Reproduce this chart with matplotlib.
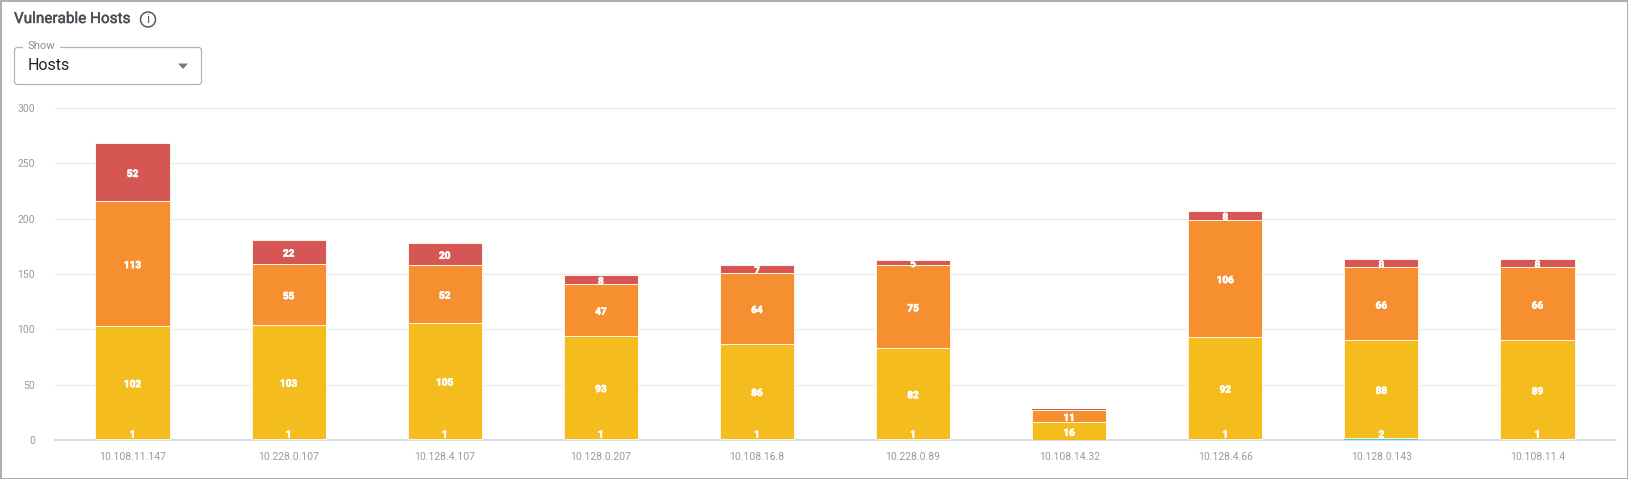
import matplotlib
matplotlib.use("Agg")
import matplotlib.pyplot as plt
import matplotlib.patheffects as pe
from matplotlib.patches import FancyBboxPatch, Rectangle, Circle, Polygon

hosts = ["10.108.11.147", "10.228.0.107", "10.128.4.107", "10.128.0.207", "10.108.16.8",
         "10.228.0.89", "10.108.14.32", "10.128.4.66", "10.128.0.143", "10.108.11.4"]
info = [1, 1, 1, 1, 1, 1, 0, 1, 2, 1]
low = [102, 103, 105, 93, 86, 82, 16, 92, 88, 89]
medium = [113, 55, 52, 47, 64, 75, 11, 106, 66, 66]
high = [52, 22, 20, 8, 7, 5, 1, 8, 8, 8]
yticks = [0, 50, 100, 150, 200, 250, 300]
series = [(info, "#4fcfc0"), (low, "#f4bc1c"), (medium, "#f68f2f"), (high, "#d55653")]

W, H = 1628, 479
plt.rcParams['font.family'] = ['Roboto', 'DejaVu Sans']
fig = plt.figure(figsize=(W / 100, H / 100), dpi=100)
bg = fig.add_axes([0, 0, 1, 1])
bg.set_xlim(0, W); bg.set_ylim(H, 0); bg.axis("off")
bg.add_patch(Rectangle((0.5, 0.5), W - 1, H - 1, fc="white", ec="#a0a0a0", lw=1.2))
bg.text(14, 19, "Vulnerable Hosts", fontsize=11, color="#484c55", va="center", ha="left",
        path_effects=[pe.withStroke(linewidth=0.3, foreground="#484c55")])
bg.add_patch(Circle((148, 19.5), 7.5, fc="none", ec="#555a62", lw=1.1))
bg.text(148, 19.8, "i", fontsize=9, color="#555a62", va="center", ha="center")
bg.add_patch(FancyBboxPatch((14.5, 47.5), 187, 37, boxstyle="round,pad=0,rounding_size=3",
                            fc="white", ec="#b5b5b5", lw=0.9))
bg.add_patch(Rectangle((23, 43), 37, 8, fc="white", ec="none", zorder=3))
bg.text(27.5, 46, "Show", fontsize=8, color="#8f8f8f", va="center", ha="left", zorder=4)
bg.text(27.5, 65, "Hosts", fontsize=11.5, color="#1d2433", va="center", ha="left")
bg.add_patch(Polygon([[178, 63.5], [188, 63.5], [183, 69]], fc="#7a7a7a", ec="none"))

ax = fig.add_axes([54.5 / W, 1 - 440 / H, (1616 - 55) / W, (440 - 108) / H])
ax.patch.set_alpha(0)
x = range(len(hosts))
bottom = [0] * len(hosts)
bold = [pe.withStroke(linewidth=0.5, foreground="white")]
for vals, colour in series:
    is_info = colour == series[0][1]
    widths = [0 if (is_info or v <= 1) else 0.7 for v in vals]
    ax.bar(x, vals, width=0.475, bottom=bottom, color=colour, edgecolor="#fff6e6",
           linewidth=widths, zorder=3)
    for i, v in enumerate(vals):
        if v >= 2 or (v == 1 and is_info):
            y = bottom[i] + v / 2 if v > 2 else bottom[i] + 3
            if is_info:
                y = 6.5
            ax.annotate(str(v), (i, y), xytext=(0, -1.2), textcoords="offset points",
                        ha="center", va="center", color="white", fontsize=7.2,
                        fontweight="bold", zorder=4, path_effects=bold)
    bottom = [b + v for b, v in zip(bottom, vals)]
ax.set_xlim(-0.5, len(hosts) - 0.5)
ax.set_ylim(0, 300)
ax.set_yticks(yticks)
ax.set_xticks(list(x), hosts)
ax.grid(axis="y", color="#e9ecf0", lw=1.0, zorder=0)
ax.set_axisbelow(True)
for s in ["top", "right", "left"]:
    ax.spines[s].set_visible(False)
ax.spines["bottom"].set_color("#ccd6eb")
ax.spines["bottom"].set_linewidth(1.2)
ax.tick_params(axis="both", length=0, labelsize=7.5, labelcolor="#9a9a9a")
ax.tick_params(axis="x", pad=9)
ax.tick_params(axis="y", pad=14)
fig.savefig("out.png", dpi=100)
